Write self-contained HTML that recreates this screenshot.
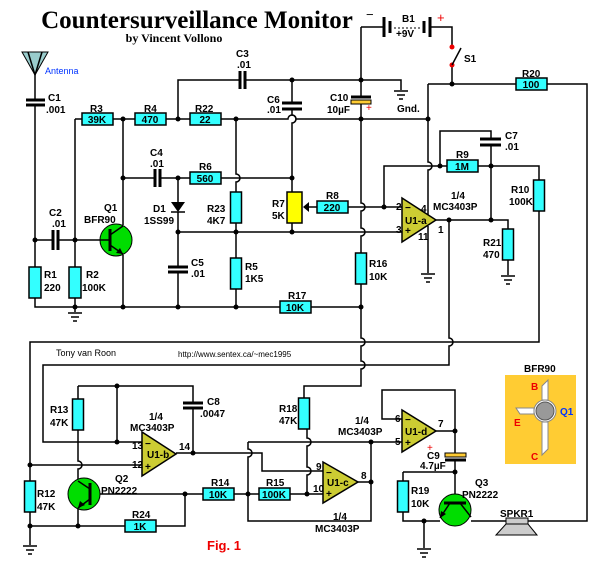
<!DOCTYPE html><html><head><meta charset="utf-8"><style>
body{margin:0;background:#fff}svg{display:block}
text{font-family:"Liberation Sans",sans-serif;font-weight:bold;font-size:10px}
.w{fill:none;stroke:#000;stroke-width:1.5}
.p{stroke:#000;stroke-width:3}
.r{fill:#33ffff;stroke:#000;stroke-width:1.5}
.oa{fill:#cccc33;stroke:#000;stroke-width:1.5}
.c{text-anchor:middle}
</style></head><body>
<svg width="608" height="570" viewBox="0 0 608 570" xmlns="http://www.w3.org/2000/svg">
<text x="197" y="28" class="c" style="font-family:'Liberation Serif',serif;font-size:25px">Countersurveillance Monitor</text>
<text x="174" y="42" class="c" style="font-family:'Liberation Serif',serif;font-size:12px">by Vincent Vollono</text>
<polygon points="22,52 48,52 35,75" fill="#99cccc" stroke="#000"/>
<path class="w" d="M35,75 L28,52 M35,75 L42,52"/>
<text x="45" y="74" style="font-weight:normal;font-size:9px;fill:#0033ff">Antenna</text>
<g class="w">
<path d="M35,75V100M35,105V267M35,298V307H280M311,307H361"/>
<path d="M35,240H53M58,240H100"/>
<path d="M75,119V267M75,298V312"/>
<path d="M75,119H82M113,119H135M166,119H190M221,119H288a4,4 0 0 1 8,0H428"/>
<path d="M178,119V80H240M245,80H361H401V90"/>
<path d="M123,119V225M123,255V307"/>
<path d="M123,178H155M160,178H190M221,178H292"/>
<path d="M236,119V174a4,4 0 0 1 0,8V192M236,223V258M236,289V307"/>
<path d="M178,178V202M178,212V267M178,272V307"/>
<path d="M178,232H402"/>
<path d="M292,80V103M292,109V115a4,4 0 0 1 0,8V192M292,223V232"/>
<path d="M309,207H317M348,207H402"/>
<path d="M361,27H384M430,27H452V47M452,65V84"/>
<path d="M361,27V97M361,104V203a4,4 0 0 1 0,8V228a4,4 0 0 1 0,8V253M361,284V338a4,4 0 0 1 0,8V361a4,4 0 0 1 0,8V386H304V398"/>
<path d="M428,84H516M547,84H587V521H528"/>
<path d="M428,84V162a4,4 0 0 1 0,8V215M428,226V273"/>
<path d="M384,207V166H447M478,166H539V180M539,211V342H30V481M30,512V545"/>
<path d="M440,166V131H491V139M491,145V220"/>
<path d="M436,220H508V229M508,260V275"/>
<path d="M449,220V338a4,4 0 0 1 0,8V365H43V442H142"/>
<path d="M30,465H142"/>
<path d="M78,386H193V403M193,408V453M78,386V399M78,430V461a4,4 0 0 1 0,8V481"/>
<path d="M117,386V442"/>
<path d="M176,453H262V471H323"/>
<path d="M100,494H203M234,494H259M290,494H323"/>
<path d="M78,508V526M30,526H125M156,526H185V494"/>
<path d="M248,442V449a4,4 0 0 1 0,8V521H371V442"/>
<path d="M248,442H402"/>
<path d="M307,428V438a4,4 0 0 1 0,8V467a4,4 0 0 1 0,8V494"/>
<path d="M358,482H371"/>
<path d="M436,431H455V390H382V419H402M455,431V453M455,460V495"/>
<path d="M403,472H455M403,472V481M403,512V521H440M424,521V548M471,521H506"/>
</g>
<g class="w">
<path d="M68,313H82M71,317H79M73,321H77"/>
<path d="M394,91H408M397,95H405M399,99H403"/>
<path d="M421,274H435M424,278H432M426,282H430"/>
<path d="M501,276H515M504,280H512M506,284H510"/>
<path d="M23,546H37M26,550H34M28,554H32"/>
<path d="M417,549H431M420,553H428M422,557H426"/>
</g>
<g class="p">
<path d="M26,100H45M26,105H45"/>
<path d="M53,230V250M58,230V250"/>
<path d="M240,71V89M245,71V89"/>
<path d="M155,169V187M160,169V187"/>
<path d="M168,267H188M168,272H188"/>
<path d="M282,103H302M282,109H302"/>
<path d="M351,97H371"/>
<path d="M480,139H501M480,145H501"/>
<path d="M183,403H203M183,408H203"/>
<path d="M445,460H466"/>
<path d="M384,17V37"/><path d="M390,21V33"/><path d="M424,21V33"/><path d="M430,17V37"/>
</g>
<rect x="351" y="100" width="20" height="4" fill="#ffcc33" stroke="#000"/>
<rect x="445" y="453" width="21" height="4" fill="#ffcc33" stroke="#000"/>
<path d="M394,28H420" stroke="#000" stroke-dasharray="2,2"/>
<circle cx="452" cy="47" r="2.5" fill="#e00"/><circle cx="452" cy="65" r="2.5" fill="#e00"/>
<path d="M452,65L461,48" class="w"/>
<polygon points="171,202 185,202 178,212" fill="#000"/><path d="M171,212H185" class="w"/>
<g class="r">
<rect x="29" y="267" width="12" height="31"/><rect x="69" y="267" width="12" height="31"/>
<rect x="82" y="113" width="31" height="12"/><rect x="135" y="113" width="31" height="12"/><rect x="190" y="113" width="31" height="12"/>
<rect x="190" y="172" width="31" height="12"/>
<rect x="230.5" y="192" width="11" height="31"/><rect x="230.5" y="258" width="11" height="31"/>
<rect x="317" y="201" width="31" height="12"/><rect x="280" y="301" width="31" height="12"/>
<rect x="355.5" y="253" width="11" height="31"/>
<rect x="516" y="78" width="31" height="12"/><rect x="447" y="160" width="31" height="12"/>
<rect x="533.5" y="180" width="11" height="31"/><rect x="502.5" y="229" width="11" height="31"/>
<rect x="24.5" y="481" width="11" height="31"/><rect x="72.5" y="399" width="11" height="31"/>
<rect x="298.5" y="398" width="11" height="31"/>
<rect x="125" y="520" width="31" height="12"/><rect x="203" y="488" width="31" height="12"/><rect x="259" y="488" width="31" height="12"/>
<rect x="397.5" y="481" width="11" height="31"/>
</g>
<rect x="287" y="192" width="15" height="31" fill="#ffff00" stroke="#000" stroke-width="1.5"/>
<polygon points="303,207 309,202 309,212" fill="#000"/>
<polygon class="oa" points="402,198 402,242 436,220"/>
<polygon class="oa" points="142,432 142,476 176,454"/>
<polygon class="oa" points="323,462 323,503 358,482"/>
<polygon class="oa" points="402,410 402,452 436,431"/>
<g style="font-weight:normal;font-size:9px">
<text x="405" y="224">U1-a</text><text x="147" y="458">U1-b</text><text x="327" y="486">U1-c</text><text x="405" y="435">U1-d</text>
</g>
<g style="font-size:10px">
<text x="405" y="211">−</text><text x="405" y="234">+</text><text x="145" y="447">−</text><text x="145" y="470">+</text>
<text x="326" y="476">−</text><text x="326" y="497">+</text><text x="405" y="423">−</text><text x="405" y="446">+</text>
</g>
<circle cx="116" cy="240" r="16" fill="#00dd00" stroke="#000"/>
<path class="p" d="M110,229V251"/><path class="w" d="M100,240H110M110,235L123,226M110,245L123,254"/>
<polygon points="123,254 116,253 120,248" fill="#000"/>
<circle cx="84" cy="494" r="16" fill="#00dd00" stroke="#000"/>
<path class="p" d="M90,483V505"/><path class="w" d="M90,489L78,481M90,499L78,508"/>
<polygon points="78,508 80,501 85,505" fill="#000"/>
<circle cx="455" cy="510" r="16" fill="#00dd00" stroke="#000"/>
<path class="p" d="M444,503H466"/><path class="w" d="M450,503L440,518M460,503L471,517"/>
<polygon points="440,518 441,511 446,514" fill="#000"/>
<rect x="506" y="518" width="22" height="6" fill="#ccc" stroke="#000"/>
<polygon points="506,524 528,524 537,535 496,535" fill="#ccc" stroke="#000"/>
<g fill="#000">
<circle cx="35" cy="240" r="2.5"/><circle cx="75" cy="240" r="2.5"/><circle cx="75" cy="307" r="2.5"/>
<circle cx="123" cy="119" r="2.5"/><circle cx="178" cy="119" r="2.5"/><circle cx="236" cy="119" r="2.5"/>
<circle cx="123" cy="178" r="2.5"/><circle cx="178" cy="178" r="2.5"/><circle cx="292" cy="178" r="2.5"/>
<circle cx="178" cy="232" r="2.5"/><circle cx="236" cy="232" r="2.5"/><circle cx="292" cy="232" r="2.5"/>
<circle cx="123" cy="307" r="2.5"/><circle cx="178" cy="307" r="2.5"/><circle cx="236" cy="307" r="2.5"/><circle cx="361" cy="307" r="2.5"/>
<circle cx="292" cy="80" r="2.5"/><circle cx="361" cy="80" r="2.5"/><circle cx="361" cy="119" r="2.5"/><circle cx="428" cy="119" r="2.5"/>
<circle cx="452" cy="84" r="2.5"/><circle cx="440" cy="166" r="2.5"/><circle cx="491" cy="166" r="2.5"/>
<circle cx="384" cy="207" r="2.5"/><circle cx="449" cy="220" r="2.5"/><circle cx="491" cy="220" r="2.5"/>
<circle cx="30" cy="465" r="2.5"/><circle cx="30" cy="526" r="2.5"/><circle cx="78" cy="526" r="2.5"/>
<circle cx="117" cy="386" r="2.5"/><circle cx="117" cy="442" r="2.5"/><circle cx="193" cy="453" r="2.5"/>
<circle cx="185" cy="494" r="2.5"/><circle cx="248" cy="494" r="2.5"/><circle cx="307" cy="494" r="2.5"/>
<circle cx="371" cy="442" r="2.5"/><circle cx="371" cy="482" r="2.5"/><circle cx="455" cy="431" r="2.5"/>
<circle cx="455" cy="472" r="2.5"/><circle cx="424" cy="521" r="2.5"/>
</g>
<g class="c">
<text x="97" y="123">39K</text><text x="150" y="123">470</text><text x="205" y="123">22</text>
<text x="205" y="182">560</text><text x="332" y="211">220</text><text x="295" y="311">10K</text>
<text x="531" y="88">100</text><text x="462" y="170">1M</text>
<text x="140" y="530">1K</text><text x="218" y="498">10K</text><text x="274" y="498">100K</text>
</g>
<text x="48" y="101">C1</text><text x="46" y="113">.001</text>
<text x="49" y="216">C2</text><text x="52" y="227">.01</text>
<text x="44" y="278">R1</text><text x="44" y="291">220</text>
<text x="86" y="278">R2</text><text x="82" y="291">100K</text>
<text x="90" y="112">R3</text><text x="144" y="112">R4</text><text x="195" y="112">R22</text>
<text x="236" y="57">C3</text><text x="237" y="68">.01</text>
<text x="150" y="156">C4</text><text x="150" y="167">.01</text><text x="199" y="170">R6</text>
<text x="104" y="211">Q1</text><text x="84" y="223">BFR90</text>
<text x="153" y="212">D1</text><text x="144" y="224">1SS99</text>
<text x="207" y="212">R23</text><text x="207" y="224">4K7</text>
<text x="191" y="266">C5</text><text x="191" y="277">.01</text>
<text x="245" y="270">R5</text><text x="245" y="282">1K5</text>
<text x="267" y="103">C6</text><text x="267" y="113">.01</text>
<text x="272" y="207">R7</text><text x="272" y="219">5K</text>
<text x="326" y="199">R8</text><text x="288" y="299">R17</text>
<text x="330" y="101">C10</text><text x="327" y="113">10µF</text><text x="366" y="111" style="fill:#e00;font-weight:normal">+</text>
<text x="397" y="112">Gnd.</text>
<text x="366" y="19" style="font-size:13px;font-weight:normal">−</text>
<text x="402" y="22">B1</text><text x="396" y="37">+9V</text>
<text x="437" y="22" style="fill:#e00;font-size:13px;font-weight:normal">+</text>
<text x="464" y="62">S1</text>
<text x="522" y="77">R20</text><text x="456" y="158">R9</text>
<text x="505" y="139">C7</text><text x="505" y="150">.01</text>
<text x="451" y="199">1/4</text><text x="433" y="210">MC3403P</text>
<text x="396" y="210">2</text><text x="396" y="233">3</text><text x="421" y="212">4</text><text x="418" y="240">11</text><text x="438" y="233">1</text>
<text x="511" y="193">R10</text><text x="509" y="205">100K</text>
<text x="483" y="246">R21</text><text x="483" y="258">470</text>
<text x="369" y="267">R16</text><text x="369" y="280">10K</text>
<text x="56" y="356" style="font-weight:normal;font-size:9px">Tony van Roon</text>
<text x="178" y="357" style="font-weight:normal;font-size:8px">http://www.sentex.ca/~mec1995</text>
<text x="50" y="413">R13</text><text x="50" y="426">47K</text>
<text x="207" y="405">C8</text><text x="200" y="417">.0047</text>
<text x="149" y="420">1/4</text><text x="130" y="431">MC3403P</text>
<text x="132" y="449">13</text><text x="132" y="468">12</text><text x="179" y="450">14</text>
<text x="37" y="497">R12</text><text x="37" y="510">47K</text>
<text x="115" y="482">Q2</text><text x="101" y="494">PN2222</text>
<text x="132" y="518">R24</text><text x="211" y="486">R14</text><text x="266" y="486">R15</text>
<text x="279" y="412">R18</text><text x="279" y="424">47K</text>
<text x="355" y="424">1/4</text><text x="338" y="435">MC3403P</text>
<text x="316" y="470">9</text><text x="313" y="492">10</text><text x="361" y="479">8</text>
<text x="333" y="520">1/4</text><text x="315" y="532">MC3403P</text>
<text x="395" y="422">6</text><text x="395" y="445">5</text><text x="438" y="427">7</text>
<text x="427" y="451" style="fill:#e00;font-weight:normal">+</text>
<text x="427" y="459">C9</text>
<text x="420" y="469">4.7µF</text>
<text x="411" y="494">R19</text><text x="411" y="507">10K</text>
<text x="475" y="486">Q3</text><text x="462" y="498">PN2222</text>
<text x="500" y="517">SPKR1</text>
<text x="207" y="550" style="fill:#e00;font-size:13px">Fig. 1</text>
<text x="524" y="372">BFR90</text>
<rect x="505" y="375" width="71" height="89" fill="#ffcc33"/>
<polygon points="542,400 542,386 548,380 548,400" fill="#fff" stroke="#888"/>
<polygon points="542,422 542,455 548,449 548,422" fill="#fff" stroke="#888"/>
<polygon points="534,408 516,408 520,414 534,414" fill="#fff" stroke="#888"/>
<circle cx="545" cy="411" r="11" fill="#fff" stroke="#888"/>
<circle cx="545" cy="411" r="9" fill="#999" stroke="#555"/>
<text x="531" y="390" style="fill:#e00">B</text><text x="514" y="426" style="fill:#e00">E</text><text x="531" y="460" style="fill:#e00">C</text>
<text x="560" y="415" style="fill:#0033ff">Q1</text>
</svg>
</body></html>
